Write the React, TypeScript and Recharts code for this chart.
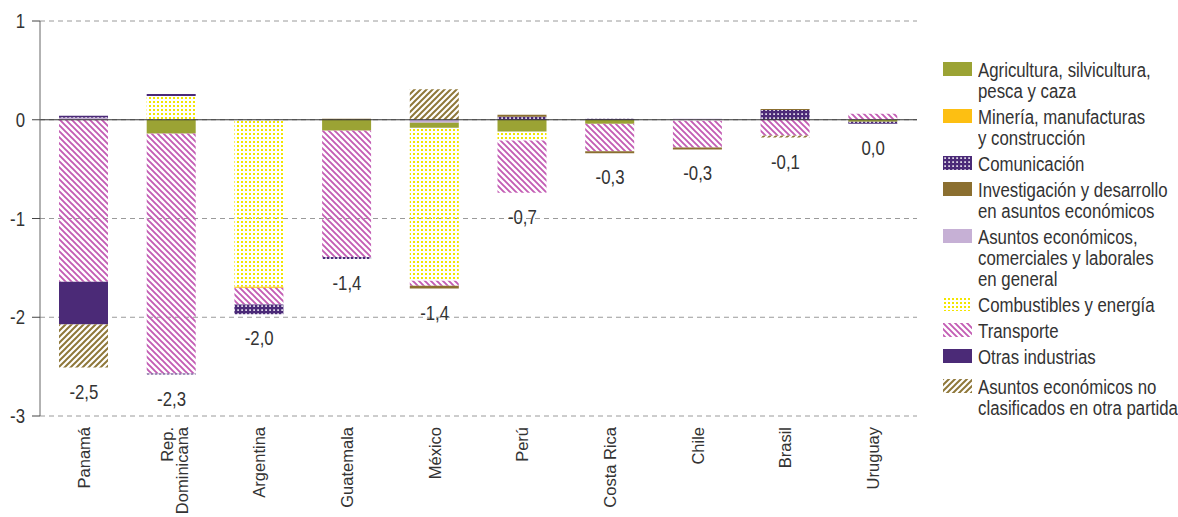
import React from 'react';
import { ComposedChart, Bar, Line, XAxis, YAxis, CartesianGrid, ReferenceLine, Legend, LabelList } from 'recharts';

const countries = ['Panamá', 'Rep.\nDominicana', 'Argentina', 'Guatemala', 'México', 'Perú', 'Costa Rica', 'Chile', 'Brasil', 'Uruguay'];

// percentage points of GDP
const agricultura = [0, -0.14, 0, -0.11, -0.05, -0.12, -0.04, 0, 0, -0.02];
const mineria = [0, 0, -0.01, 0, 0, 0, 0, 0, 0, 0];
const comunicacion = [0.02, -0.01, -0.1, -0.02, 0, 0.03, 0.01, 0, 0.1, -0.02];
const investigacion = [0, 0, 0, 0.01, -0.03, 0.02, -0.02, -0.02, 0.01, 0];
const asuntosGenerales = [0.02, 0, 0, 0, -0.03, 0, 0, 0.01, 0, 0];
const combustibles = [0, 0.24, -1.69, 0, -1.55, -0.09, 0, -0.01, 0, 0];
const transporte = [-1.64, -2.43, -0.17, -1.28, -0.05, -0.53, -0.28, -0.27, -0.16, 0.06];
const otrasIndustrias = [-0.43, 0.02, 0, 0, 0, 0, 0, 0, 0, 0];
const noClasificados = [-0.44, 0, 0, 0, 0.31, 0, 0, 0, -0.02, 0];

const yTicks = [1, 0, -1, -2, -3];

// no narrow font installed, so squeeze Liberation Sans horizontally
const NARROW = '"Liberation Sans", Arial, sans-serif';
const SQUEEZE = 0.84;
const TEXT = '#333333';

const series = {
  agricultura: { name: 'Agricultura, silvicultura,\npesca y caza', fill: '#9ba334', values: agricultura },
  mineria: { name: 'Minería, manufacturas\ny construcción', fill: '#fdbf12', values: mineria },
  comunicacion: { name: 'Comunicación', fill: 'url(#pat-comunicacion)', values: comunicacion },
  investigacion: { name: 'Investigación y desarrollo\nen asuntos económicos', fill: '#8b6f30', values: investigacion },
  asuntosGenerales: { name: 'Asuntos económicos,\ncomerciales y laborales\nen general', fill: '#c6b0d5', values: asuntosGenerales },
  combustibles: { name: 'Combustibles y energía', fill: 'url(#pat-combustibles)', values: combustibles },
  transporte: { name: 'Transporte', fill: 'url(#pat-transporte)', values: transporte },
  otrasIndustrias: { name: 'Otras industrias', fill: '#4b2a77', values: otrasIndustrias },
  noClasificados: { name: 'Asuntos económicos no\nclasificados en otra partida', fill: 'url(#pat-noclasificados)', values: noClasificados },
};

type Key = keyof typeof series;

// order in which segments are stacked (matches the picture)
const stackOrder: Key[] = ['asuntosGenerales', 'agricultura', 'combustibles', 'mineria', 'transporte', 'otrasIndustrias', 'noClasificados', 'comunicacion', 'investigacion'];
// order shown in the legend
const legendOrder: Key[] = ['agricultura', 'mineria', 'comunicacion', 'investigacion', 'asuntosGenerales', 'combustibles', 'transporte', 'otrasIndustrias', 'noClasificados'];

const data = countries.map((country, i) => {
  const row: Record<string, any> = { country };
  let total = 0;
  let bottom = 0;
  stackOrder.forEach((k) => {
    const v = series[k].values[i];
    row[k] = v;
    total += v;
    if (v < 0) bottom += v;
  });
  row.bottom = bottom;
  row.totalLabel = (Math.round(total * 10) / 10).toFixed(1).replace('-0.0', '0.0').replace('.', ',');
  return row;
});

const CountryTick = ({ x, y, payload }: any) => {
  const lines = String(payload.value).split('\n');
  const base = lines.length > 1 ? [1, 16] : [6];
  return (
    <g transform={`translate(${x},${y + 3})`}>
      <text transform="rotate(-90)" textAnchor="end" fontSize={16.5} fill={TEXT} fontFamily={NARROW}>
        {lines.map((l, i) => (
          <tspan key={i} x={0} y={base[i]}>{l}</tspan>
        ))}
      </text>
    </g>
  );
};

const ValueTick = ({ x, y, payload }: any) => (
  <g transform={`translate(${x},${y}) scale(${SQUEEZE},1)`}>
    <text textAnchor="end" dy="0.36em" fontSize={20} fill={TEXT} fontFamily={NARROW}>
      {payload.value}
    </text>
  </g>
);

const renderTotal = (props: any) => {
  const vb = props.viewBox || {};
  const x = props.x ?? vb.x;
  const y = props.y ?? vb.y;
  if (x == null || y == null) return null;
  return (
    <g transform={`translate(${x},${y + 31}) scale(${SQUEEZE},1)`}>
      <text textAnchor="middle" fontSize={20} fill={TEXT} fontFamily={NARROW}>
        {props.value}
      </text>
    </g>
  );
};

const Swatch = ({ fill }: { fill: string }) => (
  <svg width={29} height={14} style={{ position: 'absolute', left: 0, top: 2 }}>
    <rect x={0} y={0} width={29} height={14} fill={fill} />
  </svg>
);

const renderLegend = () => (
  <div style={{ fontFamily: NARROW, fontSize: 20, color: TEXT, lineHeight: '21px' }}>
    {legendOrder.map((k, i) => (
      <div key={k} style={{ position: 'relative', height: series[k].name.split('\n').length * 21, marginBottom: i === 7 ? 9 : 5 }}>
        <Swatch fill={series[k].fill} />
        <div style={{ position: 'absolute', left: 35, top: 0, whiteSpace: 'pre', transform: `scaleX(${SQUEEZE})`, transformOrigin: '0 0' }}>
          {series[k].name}
        </div>
      </div>
    ))}
  </div>
);

const App: React.FC = () => {
  return (
    <div style={{ position: 'absolute', left: 0, top: 0, width: 1178, height: 517, background: '#fff' }}>
      <ComposedChart
        width={1178}
        height={517}
        data={data}
        stackOffset="sign"
        barSize={49}
        margin={{ top: 21, right: 261, bottom: 0, left: 0 }}
      >
        <defs>
          <pattern id="pat-transporte" patternUnits="userSpaceOnUse" width="6" height="6">
            <path d="M-1,-1 L7,7 M-1,5 L1,7 M5,-1 L7,1" stroke="#c35db4" strokeWidth="1.9" />
          </pattern>
          <pattern id="pat-noclasificados" patternUnits="userSpaceOnUse" width="6" height="6">
            <path d="M-1,7 L7,-1 M-1,1 L1,-1 M5,7 L7,5" stroke="#8f783a" strokeWidth="2" />
          </pattern>
          <pattern id="pat-combustibles" patternUnits="userSpaceOnUse" width="4" height="4">
            <rect x="1" y="1" width="2" height="2" fill="#f2e600" />
          </pattern>
          <pattern id="pat-comunicacion" patternUnits="userSpaceOnUse" width="4" height="4">
            <rect x="0" y="0" width="4" height="4" fill="#4b2a78" />
            <rect x="1.3" y="1.3" width="1.6" height="1.6" fill="#ffffff" />
          </pattern>
        </defs>
        <CartesianGrid vertical={false} stroke="#9a9a9a" strokeDasharray="5 4" />
        <XAxis
          dataKey="country"
          interval={0}
          height={101}
          axisLine={false}
          tickLine={false}
          tick={<CountryTick />}
        />
        <YAxis
          width={40}
          domain={[-3, 1]}
          ticks={yTicks}
          allowDataOverflow
          tickSize={8}
          tickMargin={7}
          axisLine={{ stroke: '#666' }}
          tickLine={{ stroke: '#444' }}
          tick={<ValueTick />}
        />
        <Legend
          layout="vertical"
          align="center"
          verticalAlign="middle"
          wrapperStyle={{ left: 943, top: 60, width: 235 }}
          content={renderLegend}
        />
        {stackOrder.map((k) => (
          <Bar key={k} dataKey={k} stackId="a" fill={series[k].fill} isAnimationActive={false} />
        ))}
        <ReferenceLine y={0} stroke="#333" strokeWidth={1.2} />
        <Line dataKey="bottom" stroke="none" dot={false} activeDot={false} legendType="none" isAnimationActive={false}>
          <LabelList dataKey="totalLabel" content={renderTotal} />
        </Line>
      </ComposedChart>
    </div>
  );
};

export default App;
